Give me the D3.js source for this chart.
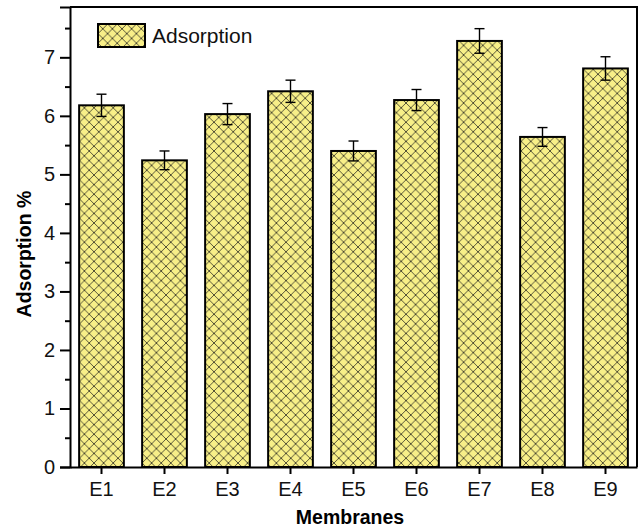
<!DOCTYPE html>
<html>
<head>
<meta charset="utf-8">
<script src="https://cdn.jsdelivr.net/npm/d3@7"></script>
<style>
  body { margin: 0; background: #fff; }
  svg { display: block; font-family: "Liberation Sans", Arial, sans-serif; }
</style>
</head>
<body>
<div id="chart"></div>
<script>
// data
const membranes = ["E1", "E2", "E3", "E4", "E5", "E6", "E7", "E8", "E9"];
const adsorption = [6.18, 5.24, 6.03, 6.42, 5.40, 6.27, 7.28, 5.64, 6.81];
const adsorption_err = [0.19, 0.16, 0.18, 0.19, 0.17, 0.18, 0.21, 0.16, 0.20];
const y_ticks = [0, 1, 2, 3, 4, 5, 6, 7];
const y_minor = [0.5, 1.5, 2.5, 3.5, 4.5, 5.5, 6.5, 7.5];

const width = 640, height = 531;
const margin = { top: 7, right: 3, bottom: 64, left: 70 };
const plot_w = width - margin.left - margin.right,
    plot_h = height - margin.top - margin.bottom;

const svg = d3.select("#chart")
    .append("svg")
    .attr("width", width)
    .attr("height", height);

// crosshatch pattern
const hs = 9.6;
const defs = svg.append("defs");
const pat = defs.append("pattern")
    .attr("id", "hatch")
    .attr("patternUnits", "userSpaceOnUse")
    .attr("width", hs)
    .attr("height", hs);
pat.append("rect").attr("width", hs).attr("height", hs).attr("fill", "#f8ef88");
pat.append("path")
    .attr("d", `M0,0L${hs},${hs}M${hs},0L0,${hs}M-1,${hs - 1}L1,${hs + 1}M${hs - 1},-1L${hs + 1},1M-1,1L1,-1M${hs - 1},${hs + 1}L${hs + 1},${hs - 1}`)
    .attr("stroke", "#2c2c20")
    .attr("stroke-width", 0.8);

const g = svg.append("g")
    .attr("transform", `translate(${margin.left}, ${margin.top})`);

const x = d3.scaleBand()
    .domain(membranes)
    .range([0, plot_w])
    .paddingInner(0.29)
    .paddingOuter(0.145);

const y = d3.scaleLinear()
    .domain([0, 7.86])
    .range([plot_h, 0]);

// bars
g.selectAll(".bar")
    .data(membranes)
    .enter().append("rect")
    .attr("class", "bar")
    .attr("x", d => x(d))
    .attr("y", (d, i) => y(adsorption[i]))
    .attr("width", x.bandwidth())
    .attr("height", (d, i) => plot_h - y(adsorption[i]))
    .attr("fill", "url(#hatch)")
    .attr("stroke", "#000")
    .attr("stroke-width", 2);

// error bars
const cap = 5;
const err = g.selectAll(".err")
    .data(membranes)
    .enter().append("g")
    .attr("class", "err")
    .attr("stroke", "#000")
    .attr("stroke-width", 1.4);
err.append("line")
    .attr("x1", d => x(d) + x.bandwidth() / 2)
    .attr("x2", d => x(d) + x.bandwidth() / 2)
    .attr("y1", (d, i) => y(adsorption[i] + adsorption_err[i]))
    .attr("y2", (d, i) => y(adsorption[i] - adsorption_err[i]));
err.append("line")
    .attr("x1", d => x(d) + x.bandwidth() / 2 - cap)
    .attr("x2", d => x(d) + x.bandwidth() / 2 + cap)
    .attr("y1", (d, i) => y(adsorption[i] + adsorption_err[i]))
    .attr("y2", (d, i) => y(adsorption[i] + adsorption_err[i]));
err.append("line")
    .attr("x1", d => x(d) + x.bandwidth() / 2 - cap)
    .attr("x2", d => x(d) + x.bandwidth() / 2 + cap)
    .attr("y1", (d, i) => y(adsorption[i] - adsorption_err[i]))
    .attr("y2", (d, i) => y(adsorption[i] - adsorption_err[i]));

// frame (top and right)
g.append("path")
    .attr("d", `M0,0H${plot_w}V${plot_h}`)
    .attr("fill", "none")
    .attr("stroke", "#000")
    .attr("stroke-width", 2);

// y axis
const y_axis = g.append("g")
    .call(d3.axisLeft(y).tickValues(y_ticks).tickSize(10).tickPadding(5).tickFormat(d3.format("d")));
y_axis.select(".domain").attr("stroke-width", 2);
y_axis.selectAll(".tick line").attr("stroke-width", 2);
y_axis.selectAll("text").attr("font-size", 20).attr("fill", "#111");
g.append("g")
    .call(d3.axisLeft(y).tickValues(y_minor).tickSize(5).tickFormat(""))
    .call(s => s.select(".domain").remove())
    .selectAll(".tick line").attr("stroke-width", 2);

// x axis
const x_axis = g.append("g")
    .attr("transform", `translate(0, ${plot_h})`)
    .call(d3.axisBottom(x).tickSize(7).tickPadding(8).tickSizeOuter(0));
x_axis.select(".domain").attr("stroke-width", 2);
x_axis.selectAll(".tick line").attr("stroke-width", 2);
x_axis.selectAll("text").attr("font-size", 20).attr("fill", "#111");

// axis titles
svg.append("text")
    .attr("transform", `translate(31, 254) rotate(-90)`)
    .attr("text-anchor", "middle")
    .attr("font-size", 19.5)
    .attr("font-weight", "bold")
    .text("Adsorption %");

svg.append("text")
    .attr("x", 350)
    .attr("y", 524)
    .attr("text-anchor", "middle")
    .attr("font-size", 19.5)
    .attr("font-weight", "bold")
    .text("Membranes");

// legend
const legend = svg.append("g").attr("transform", "translate(98, 24)");
legend.append("rect")
    .attr("width", 47)
    .attr("height", 23)
    .attr("fill", "url(#hatch)")
    .attr("stroke", "#000")
    .attr("stroke-width", 2);
legend.append("text")
    .attr("x", 54)
    .attr("y", 19)
    .attr("font-size", 21)
    .attr("fill", "#111")
    .text("Adsorption");
</script>
</body>
</html>
